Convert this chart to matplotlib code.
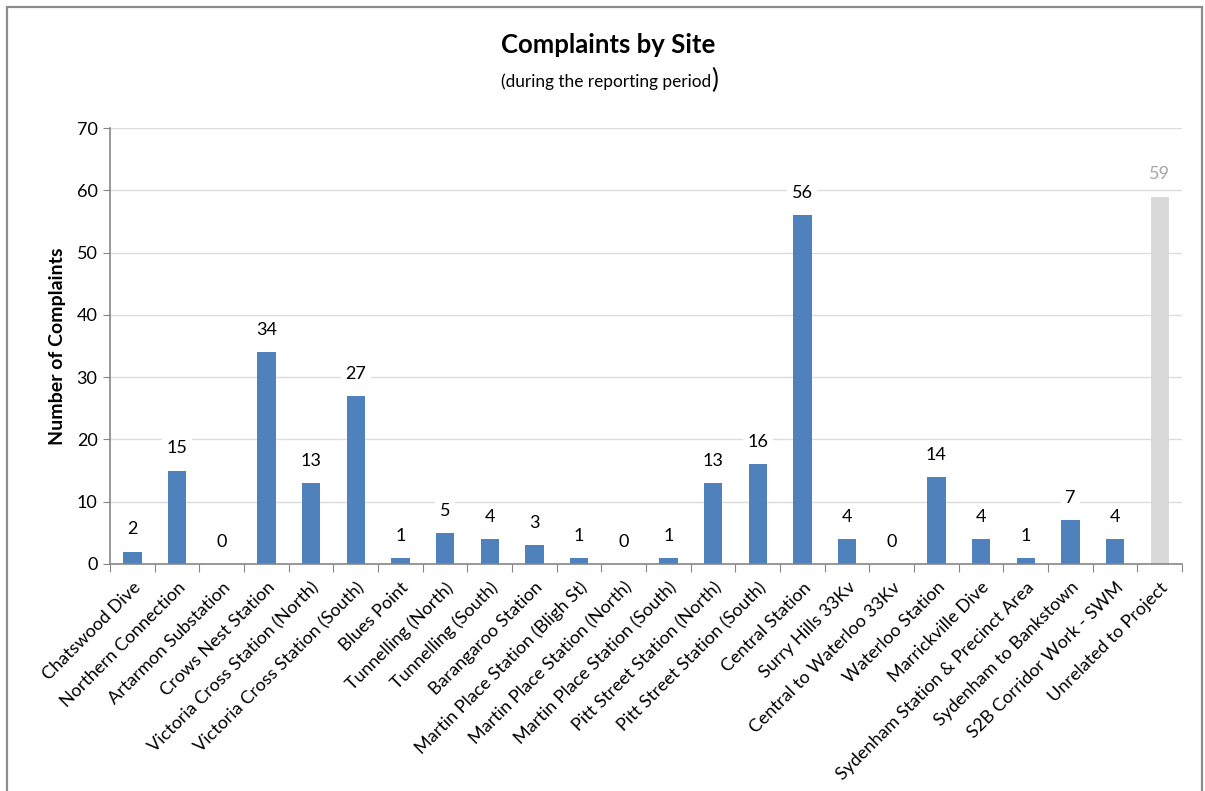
import matplotlib.pyplot as plt
from matplotlib.patches import Rectangle

plt.rcParams['font.family'] = ['Lato', 'DejaVu Sans']

sites = [
    "Chatswood Dive", "Northern Connection", "Artarmon Substation",
    "Crows Nest Station", "Victoria Cross Station (North)",
    "Victoria Cross Station (South)", "Blues Point", "Tunnelling (North)",
    "Tunnelling (South)", "Barangaroo Station", "Martin Place Station (Bligh St)",
    "Martin Place Station (North)", "Martin Place Station (South)",
    "Pitt Street Station (North)", "Pitt Street Station (South)",
    "Central Station", "Surry Hills 33Kv", "Central to Waterloo 33Kv",
    "Waterloo Station", "Marrickville Dive", "Sydenham Station & Precinct Area",
    "Sydenham to Bankstown", "S2B Corridor Work - SWM", "Unrelated to Project",
]
complaints = [2, 15, 0, 34, 13, 27, 1, 5, 4, 3, 1, 0, 1, 13, 16, 56, 4, 0,
              14, 4, 1, 7, 4, 59]
y_ticks = [0, 10, 20, 30, 40, 50, 60, 70]

blue = '#4F81BD'
grey = '#D9D9D9'
axis_col = '#868686'

fig = plt.figure(figsize=(12.05, 7.91), dpi=100)
ax = fig.add_axes([0.0913, 0.287, 0.8897, 0.551])

# outer chart border
fig.patches.append(Rectangle((7 / 1205, -0.05), 1195 / 1205, 1 - 7 / 791 + 0.05,
                             transform=fig.transFigure, fill=False,
                             edgecolor='#8C8C8C', linewidth=1.6))

x = list(range(len(sites)))
colors = [blue] * (len(sites) - 1) + [grey]
ax.bar(x, complaints, width=0.41, color=colors, zorder=2)

for xi, v, c in zip(x, complaints, colors):
    ax.annotate(str(v), (xi, v), xytext=(0, 16), textcoords='offset points',
                ha='center', va='center', fontsize=13,
                color='#A6A6A6' if c == grey else 'black',
                bbox=dict(boxstyle='square,pad=0.25', fc='white', ec='none'),
                zorder=3)

ax.set_xlim(-0.5, len(sites) - 0.5)
ax.set_ylim(0, 70)
ax.set_yticks(y_ticks)
ax.tick_params(axis='y', labelsize=13, length=5, color=axis_col, pad=4)
ax.yaxis.grid(True, color='#DCDCDC', linewidth=1.0, zorder=0)
ax.set_axisbelow(True)

# category boundaries carry the tick marks, labels sit under the bars
ax.set_xticks([i - 0.5 for i in range(len(sites) + 1)])
ax.set_xticklabels([])
ax.tick_params(axis='x', length=6, color=axis_col, direction='out')
ax.set_xticks(x, minor=True)
ax.set_xticklabels(sites, minor=True, rotation=45, ha='right',
                   rotation_mode='anchor', fontsize=13)
ax.tick_params(axis='x', which='minor', length=0, pad=11)

for side in ['top', 'right']:
    ax.spines[side].set_visible(False)
for side in ['left', 'bottom']:
    ax.spines[side].set_color(axis_col)
    ax.spines[side].set_linewidth(1.2)

ax.set_ylabel('Number of Complaints', fontsize=14, fontweight='bold', labelpad=8)

fig.text(608 / 1205, 1 - 45 / 791, 'Complaints by Site', ha='center', va='center',
         fontsize=18.5, fontweight='bold')
fig.text(711 / 1205, 1 - 82 / 791, '(during the reporting period', ha='right',
         va='center', fontsize=12.4)
fig.text(711 / 1205, 1 - 80 / 791, ')', ha='left', va='center', fontsize=19)

fig.savefig('out.png', dpi=100)
